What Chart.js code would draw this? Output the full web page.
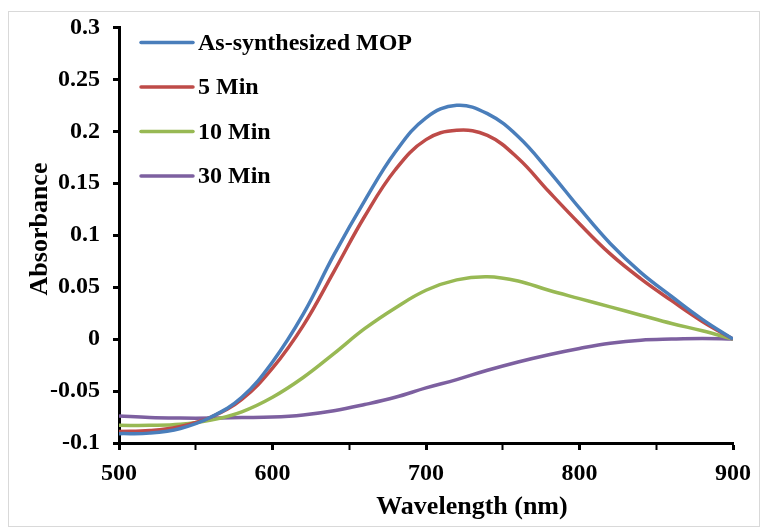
<!DOCTYPE html>
<html>
<head>
<meta charset="utf-8">
<title>Absorbance</title>
<script src="https://cdn.jsdelivr.net/npm/chart.js@4.4.0/dist/chart.umd.min.js"></script>
<style>
	body { margin: 0; background: #fff; }
	#wrap { position: relative; width: 767px; height: 528px; }
	#frame { position: absolute; left: 8px; top: 11px; width: 750px; height: 514px; border: 1px solid #d9d9d9; }
	canvas { position: absolute; left: 0; top: 0; }
</style>
</head>
<body>
<div id="wrap">
	<div id="frame"></div>
	<canvas id="line-chartcanvas" width="767" height="528"></canvas>
</div>
<script>
var wavelength = [500, 520, 540, 560, 580, 600, 620, 640, 660, 680, 700, 720, 740, 760, 780, 800, 820, 840, 860, 880, 900];
var asSynth = [-0.091, -0.0905, -0.086, -0.075, -0.056, -0.022, 0.024, 0.081, 0.133, 0.180, 0.213, 0.225, 0.217, 0.195, 0.162, 0.126, 0.092, 0.064, 0.041, 0.019, 0.000];
var min5 = [-0.089, -0.088, -0.084, -0.075, -0.058, -0.028, 0.013, 0.065, 0.118, 0.163, 0.192, 0.201, 0.196, 0.174, 0.142, 0.111, 0.082, 0.058, 0.037, 0.017, 0.000];
var min10 = [-0.083, -0.083, -0.082, -0.078, -0.070, -0.056, -0.037, -0.014, 0.010, 0.030, 0.047, 0.057, 0.060, 0.056, 0.047, 0.039, 0.031, 0.023, 0.015, 0.008, 0.000];
var min30 = [-0.074, -0.0755, -0.076, -0.076, -0.0755, -0.075, -0.073, -0.069, -0.063, -0.056, -0.047, -0.039, -0.030, -0.022, -0.015, -0.009, -0.004, -0.001, 0.000, 0.0005, 0.000];
var seriesNames = ["As-synthesized MOP", "5 Min", "10 Min", "30 Min"];
var seriesColors = ["#4A7EBB", "#BE4B48", "#98B954", "#7D60A0"];
var xTicks = [500, 600, 700, 800, 900];

var font = '"Liberation Serif", "Times New Roman", serif';

function toPoints(ys) {
	var pts = [];
	for (var i in ys) {
		pts.push({ x: wavelength[i], y: ys[i] });
	}
	return pts;
}

var allSeries = [asSynth, min5, min10, min30];
var datasets = [];
for (var i in allSeries) {
	datasets.push({
		label: seriesNames[i],
		data: toPoints(allSeries[i]),
		borderColor: seriesColors[i],
		backgroundColor: seriesColors[i],
		borderWidth: 3.5,
		pointRadius: 0,
		fill: false,
		tension: 0.4
	});
}

// legend inside the plot (top-left) and the axis titles
var labelsPlugin = {
	id: 'labelsPlugin',
	afterDraw: function(chart) {
		var ctx = chart.ctx;
		var area = chart.chartArea;
		ctx.save();
		ctx.font = 'bold 24px ' + font;
		ctx.textBaseline = 'middle';
		ctx.lineCap = 'round';
		chart.data.datasets.forEach(function(ds, k) {
			var y = area.top + 15 + k * 44.5;
			var x = area.left + 22;
			ctx.strokeStyle = ds.borderColor;
			ctx.lineWidth = 3.5;
			ctx.beginPath();
			ctx.moveTo(x, y);
			ctx.lineTo(x + 52, y);
			ctx.stroke();
			ctx.fillStyle = '#000';
			ctx.fillText(ds.label, x + 57, y + 1);
		});

		ctx.font = 'bold 26px ' + font;
		ctx.textAlign = 'center';
		ctx.fillText('Wavelength (nm)', 472, 507);
		ctx.translate(40, 229);
		ctx.rotate(-Math.PI / 2);
		ctx.fillText('Absorbance', 0, 0);
		ctx.restore();
	}
};

var ctx = document.getElementById('line-chartcanvas');

var LineGraph = new Chart(ctx, {
	type: 'line',
	data: { datasets: datasets },
	plugins: [labelsPlugin],
	options: {
		responsive: false,
		animation: false,
		layout: { padding: { left: 0, top: 23, right: 34, bottom: 0 } },
		plugins: {
			legend: { display: false },
			tooltip: { enabled: false }
		},
		scales: {
			x: {
				type: 'linear',
				min: 500,
				max: 900,
				afterFit: function(scale) { scale.height = 85; },
				ticks: {
					stepSize: 50,
					autoSkip: false,
					maxRotation: 0,
					padding: 9,
					color: '#000',
					font: { family: font, size: 24, weight: 'bold' },
					callback: function(v) { return xTicks.indexOf(v) >= 0 ? String(v) : ''; }
				},
				grid: {
					drawOnChartArea: false,
					tickLength: 7,
					tickColor: '#000',
					tickWidth: function(c) { return xTicks.indexOf(c.tick.value) >= 0 ? 3 : 2; }
				},
				border: { color: '#000', width: 3 }
			},
			y: {
				min: -0.1,
				max: 0.3,
				afterFit: function(scale) { scale.width = 119; },
				ticks: {
					stepSize: 0.05,
					padding: 13,
					color: '#000',
					font: { family: font, size: 24, weight: 'bold' },
					callback: function(v) { return String(Number(v.toFixed(2))); }
				},
				grid: {
					drawOnChartArea: false,
					tickLength: 6,
					tickColor: '#000',
					tickWidth: 3
				},
				border: { color: '#000', width: 3 }
			}
		}
	}
});
</script>
</body>
</html>
